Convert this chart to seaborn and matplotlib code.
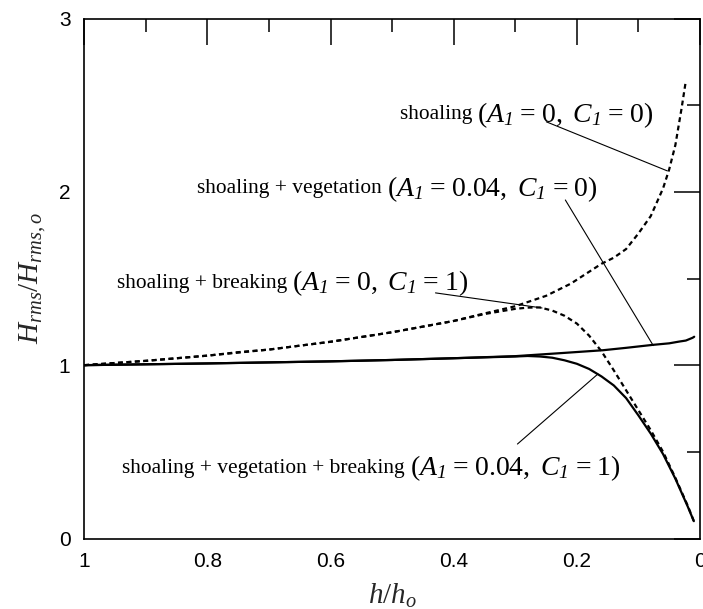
import numpy as np
import pandas as pd
import matplotlib
matplotlib.use("Agg")
import matplotlib.pyplot as plt
from matplotlib.ticker import MultipleLocator
import seaborn as sns

# ---- data (h/h_o , H_rms/H_rms,o) ----
x_shoal = [1.0, 0.9, 0.8, 0.75, 0.7, 0.6, 0.5, 0.4, 0.36, 0.3, 0.25, 0.21,
           0.16, 0.14, 0.12, 0.1, 0.08, 0.07, 0.06, 0.05, 0.04, 0.03, 0.023]
y_shoal = [1.0, 1.025, 1.055, 1.075, 1.09, 1.135, 1.19, 1.255, 1.29, 1.34, 1.40, 1.47,
           1.585, 1.62, 1.67, 1.76, 1.86, 1.94, 2.02, 2.13, 2.27, 2.48, 2.64]

x_veg = [1.0, 0.8, 0.6, 0.5, 0.4, 0.3, 0.228, 0.158, 0.12, 0.077, 0.05, 0.034, 0.023, 0.012, 0.0094]
y_veg = [1.0, 1.01, 1.022, 1.03, 1.04, 1.052, 1.069, 1.086, 1.10, 1.117, 1.126, 1.136, 1.142, 1.158, 1.164]

x_brk = [1.0, 0.9, 0.8, 0.7, 0.6, 0.5, 0.4, 0.35, 0.3, 0.28, 0.26, 0.24, 0.22, 0.2,
         0.18, 0.16, 0.14, 0.12, 0.1, 0.08, 0.06, 0.04, 0.02, 0.01]
y_brk = [1.0, 1.025, 1.055, 1.09, 1.135, 1.19, 1.255, 1.295, 1.325, 1.332, 1.333, 1.315, 1.285, 1.24,
         1.17, 1.08, 0.97, 0.855, 0.74, 0.625, 0.50, 0.35, 0.19, 0.10]

x_vb = [1.0, 0.8, 0.6, 0.5, 0.4, 0.3, 0.28, 0.26, 0.24, 0.22, 0.2, 0.18, 0.16, 0.14,
        0.12, 0.1, 0.08, 0.06, 0.04, 0.02, 0.01]
y_vb = [1.0, 1.01, 1.022, 1.03, 1.04, 1.05, 1.053, 1.05, 1.043, 1.028, 1.008, 0.978, 0.935, 0.883,
        0.81, 0.71, 0.605, 0.487, 0.345, 0.185, 0.10]

cases = ["shoaling", "shoaling + breaking", "shoaling + vegetation",
         "shoaling + vegetation + breaking"]
x_ticks = [1.0, 0.8, 0.6, 0.4, 0.2, 0.0]
x_tick_labels = ["1", "0.8", "0.6", "0.4", "0.2", "0"]
y_ticks = [0, 1, 2, 3]
y_tick_labels = ["0", "1", "2", "3"]

plain_texts = ["shoaling ", "shoaling + vegetation ", "shoaling + breaking ",
               "shoaling + vegetation + breaking "]
A1_vals = ["0", "0.04", "0", "0.04"]
C1_vals = ["0", "0", "1", "1"]
EQ = r"\hspace{0.1}=\hspace{0.1}"
math_texts = [r"$(A_{\mathcal{1}}" + EQ + a + r",\ C_{\mathcal{1}}" + EQ + c + ")$"
              for a, c in zip(A1_vals, C1_vals)]

df = pd.concat([
    pd.DataFrame({"h": x_shoal, "H": y_shoal, "case": cases[0]}),
    pd.DataFrame({"h": x_brk, "H": y_brk, "case": cases[1]}),
    pd.DataFrame({"h": x_veg, "H": y_veg, "case": cases[2]}),
    pd.DataFrame({"h": x_vb, "H": y_vb, "case": cases[3]}),
], ignore_index=True)

sns.set_theme(style="white")
plt.rcParams["font.family"] = ["Liberation Sans", "DejaVu Sans"]
plt.rcParams["mathtext.fontset"] = "custom"
plt.rcParams["mathtext.rm"] = "Liberation Serif"
plt.rcParams["mathtext.it"] = "Liberation Serif:italic"
plt.rcParams["mathtext.bf"] = "Liberation Serif:bold"
plt.rcParams["mathtext.cal"] = "Liberation Serif:italic"
plt.rcParams["axes.edgecolor"] = "black"
plt.rcParams["text.color"] = "black"
plt.rcParams["xtick.color"] = "black"
plt.rcParams["ytick.color"] = "black"

fig = plt.figure(figsize=(7.03, 6.09), dpi=100)
ax = fig.add_axes([84.3 / 703, 70.5 / 609, (700.0 - 84.3) / 703, 520.0 / 609])

dot = (2.2, 1.6)
sns.lineplot(data=df, x="h", y="H", style="case", style_order=cases,
             dashes={cases[0]: dot, cases[1]: dot, cases[2]: "", cases[3]: ""},
             color="black", estimator=None, sort=False, legend=False,
             linewidth=1.6, ax=ax)

ax.set_xlim(1, 0)
ax.set_ylim(0, 3)
ax.set_xticks(x_ticks)
ax.set_xticklabels(x_tick_labels)
ax.set_yticks(y_ticks)
ax.set_yticklabels(y_tick_labels)
ax.xaxis.set_minor_locator(MultipleLocator(0.1))
ax.yaxis.set_minor_locator(MultipleLocator(0.5))
ax.tick_params(which="both", direction="in", top=True, right=True,
               labelsize=15, pad=10, width=1.1)
ax.tick_params(which="major", length=18.7)
ax.tick_params(which="minor", length=9.4)
for s in ax.spines.values():
    s.set_linewidth(1.2)
    s.set_color("black")

ax.set_xlabel(r"$h/h_o$", fontsize=21)
ax.set_ylabel(r"$H_{rms}/H_{rms,o}$", fontsize=21)
ax.xaxis.set_label_coords(0.5, -0.084)
ax.yaxis.set_label_coords(-0.059, 0.5)

# annotations (text split: plain serif + larger math part)
split_x = [0.3614, 0.5085, 0.662, 0.4706]
plain_y = [2.418, 1.992, 1.444, 0.380]
math_y = [2.405, 1.975, 1.432, 0.363]
for sx, py, my, pt, mt in zip(split_x, plain_y, math_y, plain_texts, math_texts):
    ax.text(sx, py, pt, ha="right", va="baseline", fontsize=15.4,
            family=["Liberation Serif", "DejaVu Serif"])
    ax.text(sx, my, mt, ha="left", va="baseline", fontsize=20)

leader_start = [(0.2496, 2.404), (0.2187, 1.953), (0.4296, 1.417), (0.2965, 0.545)]
leader_end = [(0.0532, 2.121), (0.0759, 1.113), (0.2566, 1.330), (0.1658, 0.949)]
for st, en in zip(leader_start, leader_end):
    ax.annotate("", xy=en, xytext=st,
                arrowprops=dict(arrowstyle="-", lw=0.8, color="black",
                                shrinkA=0, shrinkB=0))

fig.savefig("out.png", dpi=100)
